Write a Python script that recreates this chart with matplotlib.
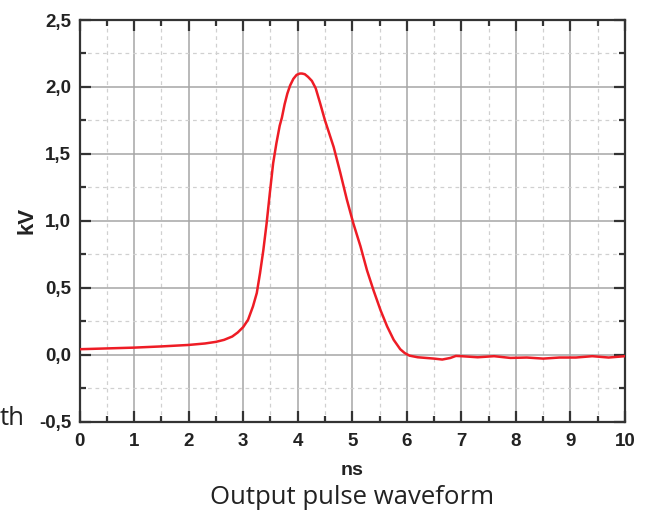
import matplotlib

matplotlib.use("Agg")
import matplotlib.pyplot as plt
from matplotlib.ticker import FuncFormatter, MultipleLocator

# pulse shape (ns, kV)
t_ns = [0.0, 0.5, 1.0, 1.5, 2.0, 2.3, 2.5, 2.65, 2.8, 2.9, 3.0, 3.09, 3.18,
        3.25, 3.31, 3.37, 3.43, 3.49, 3.55, 3.61, 3.67, 3.71, 3.76, 3.81,
        3.86, 3.92, 3.98, 4.04, 4.08, 4.13, 4.19, 4.26, 4.33, 4.41, 4.50,
        4.58, 4.66, 4.78, 4.90, 5.02, 5.15, 5.27, 5.39, 5.52, 5.64, 5.76,
        5.88, 5.96, 6.05, 6.2, 6.5, 6.65, 6.8, 6.9, 7.0, 7.3, 7.6, 7.9, 8.2,
        8.5, 8.8, 9.1, 9.4, 9.7, 10.0]
v_kv = [0.040, 0.046, 0.052, 0.061, 0.072, 0.083, 0.095, 0.110, 0.135,
        0.165, 0.205, 0.260, 0.360, 0.460, 0.610, 0.780, 0.980, 1.210,
        1.430, 1.580, 1.710, 1.770, 1.870, 1.950, 2.010, 2.060, 2.090,
        2.100, 2.100, 2.095, 2.075, 2.045, 1.990, 1.880, 1.750, 1.650,
        1.550, 1.360, 1.160, 0.980, 0.810, 0.630, 0.480, 0.330, 0.210,
        0.110, 0.040, 0.012, -0.008, -0.020, -0.030, -0.037, -0.025,
        -0.010, -0.012, -0.020, -0.012, -0.025, -0.022, -0.030, -0.022,
        -0.022, -0.012, -0.022, -0.012]

x_ticks = list(range(0, 11))
y_ticks = [-0.5, 0.0, 0.5, 1.0, 1.5, 2.0, 2.5]

plt.rcParams["font.family"] = "Liberation Sans"
plt.rcParams["font.weight"] = "bold"

W, H = 645, 514
fig = plt.figure(figsize=(W / 100, H / 100), dpi=100)
ax = fig.add_axes([79.5 / W, 1 - 421.5 / H, 545.5 / W, 401.5 / H])

ax.plot(t_ns, v_kv, color="#ee1c25", lw=1.8, zorder=3,
        solid_joinstyle="round")

ax.set_xlim(0, 10)
ax.set_ylim(-0.5, 2.5)
ax.set_xticks(x_ticks)
ax.set_yticks(y_ticks)
ax.xaxis.set_minor_locator(MultipleLocator(0.5))
ax.yaxis.set_minor_locator(MultipleLocator(0.25))
ax.yaxis.set_major_formatter(FuncFormatter(lambda v, p: f"{v:.1f}".replace(".", ",")))

ax.grid(which="major", color="#a6a6a6", lw=1.1, ls="-")
ax.grid(which="minor", color="#d0d0d0", lw=0.9, ls=(0, (3, 3)))
ax.set_axisbelow(True)

for s in ax.spines.values():
    s.set_color("#333333")
    s.set_linewidth(1.6)

ax.tick_params(which="both", direction="in", top=True, right=True,
               color="#333333", width=1.6, labelsize=13.5,
               labelcolor="#222222")
ax.tick_params(which="major", length=8)
ax.tick_params(axis="x", which="major", pad=8)
ax.tick_params(axis="y", which="major", pad=6)
ax.tick_params(which="minor", length=4)

ax.set_xlabel("ns", fontweight="bold", fontsize=14, color="#222222",
              labelpad=9)
ax.set_ylabel("kV", fontweight="bold", fontsize=16, color="#222222",
              labelpad=1)

fig.text(352 / W, 1 - 497 / H, "Output pulse waveform", fontfamily="Open Sans",
         fontweight="normal", fontsize=18.5, color="#222222",
         ha="center", va="center")
fig.text(0, 1 - 425 / H, "th", fontfamily="Open Sans", fontweight="normal",
         fontsize=18.5, color="#222222", ha="left", va="baseline")

fig.savefig("out.png", dpi=100)
